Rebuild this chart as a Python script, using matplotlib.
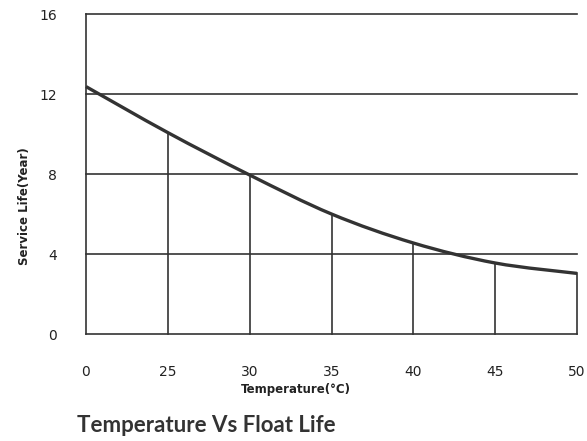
import matplotlib
matplotlib.use("Agg")
import matplotlib.pyplot as plt
from matplotlib.path import Path
from matplotlib.patches import PathPatch

# temperature categories (evenly spaced on the chart) and service life in years
temps = ["0", "25", "30", "35", "40", "45", "50"]
life = [12.37, 10.07, 7.95, 6.0, 4.55, 3.55, 3.03]
y_ticks = [0, 4, 8, 12, 16]

_INK = "#333333"
_NARROW = ["Liberation Sans Narrow", "DejaVu Sans Condensed", "DejaVu Sans"]
plt.rcParams["font.family"] = _NARROW


def _smooth_path(xs, ys):
    """Catmull-Rom through the points, expressed as cubic Bezier segments."""
    pts = list(zip(xs, ys))
    verts = [pts[0]]
    codes = [Path.MOVETO]
    for i in range(len(pts) - 1):
        p0 = pts[i - 1] if i > 0 else pts[i]
        p1, p2 = pts[i], pts[i + 1]
        p3 = pts[i + 2] if i + 2 < len(pts) else pts[i + 1]
        c1 = (p1[0] + (p2[0] - p0[0]) / 6, p1[1] + (p2[1] - p0[1]) / 6)
        c2 = (p2[0] - (p3[0] - p1[0]) / 6, p2[1] - (p3[1] - p1[1]) / 6)
        verts += [c1, c2, p2]
        codes += [Path.CURVE4] * 3
    return Path(verts, codes)


fig = plt.figure(figsize=(5.87, 4.41), dpi=100)
ax = fig.add_axes([86 / 587, 1 - 334 / 441, (577 - 86) / 587, (334 - 14) / 441])

xs = list(range(len(temps)))
ax.set_xlim(0, len(temps) - 1)
ax.set_ylim(0, 16)

# horizontal guides at each y tick
for yv in y_ticks[1:]:
    ax.axhline(yv, color=_INK, linewidth=1.2, clip_on=False)

# vertical drops from the curve to the baseline
for x, v in zip(xs[1:], life[1:]):
    ax.plot([x, x], [0, v], color=_INK, linewidth=1.2, clip_on=False)

ax.add_patch(PathPatch(_smooth_path(xs, life), facecolor="none", edgecolor=_INK,
                       linewidth=2.4, capstyle="butt", clip_on=False))

for side in ("top", "right"):
    ax.spines[side].set_visible(False)
for side in ("left", "bottom"):
    ax.spines[side].set_color(_INK)
    ax.spines[side].set_linewidth(1.2)

ax.set_xticks(xs)
ax.set_xticklabels(temps)
ax.set_yticks(y_ticks)
ax.tick_params(length=0, labelsize=10, colors="#222222")
ax.tick_params(axis="x", pad=22)
ax.tick_params(axis="y", pad=21)

fig.text(296 / 587, 1 - 390 / 441, "Temperature(°C)", ha="center", va="center",
         fontsize=8.5, fontweight="bold", color="#222222")
fig.text(25 / 587, 1 - 206 / 441, "Service Life(Year)", ha="center", va="center",
         rotation=90, fontsize=8.5, fontweight="bold", color="#222222")
fig.text(77 / 587, 1 - 425 / 441, "Temperature Vs Float Life", ha="left", va="center",
         fontsize=16, fontweight="bold", color="#333333", family=["Lato", "DejaVu Sans"])

fig.savefig("out.png", dpi=100)
